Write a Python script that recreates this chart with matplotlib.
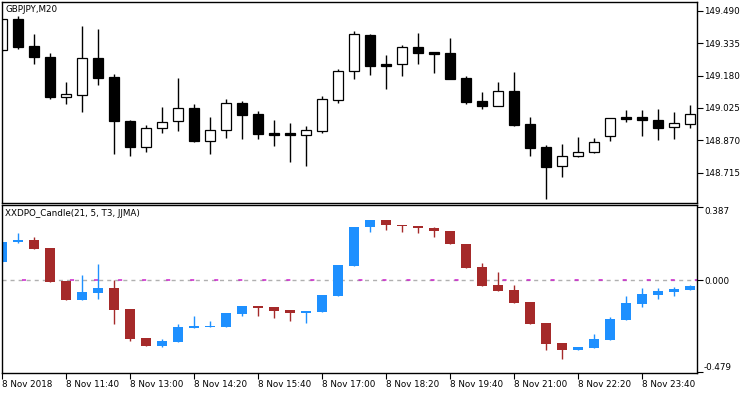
import numpy as np
import matplotlib
matplotlib.use('Agg')
import matplotlib.pyplot as plt

plt.rcParams['font.family'] = 'DejaVu Sans'
plt.rcParams['lines.scale_dashes'] = False

# GBPJPY M20, velas del panel de precio
abre = [149.301, 149.450, 149.321, 149.269, 149.079, 149.088, 149.264, 149.173, 148.962, 148.837,
        148.927, 148.961, 149.025, 148.868, 148.918, 149.048, 148.996, 148.905, 148.905, 148.894,
        148.916, 149.064, 149.200, 149.375, 149.235, 149.234, 149.315, 149.292, 149.288, 149.168,
        149.058, 149.036, 149.106, 148.948, 148.838, 148.746, 148.793, 148.813, 148.892, 148.981,
        148.981, 148.966, 148.932, 148.947]
maximo = [149.452, 149.465, 149.380, 149.289, 149.149, 149.418, 149.402, 149.187, 148.967, 148.943,
          149.029, 149.169, 149.044, 148.981, 149.068, 149.059, 149.010, 148.967, 148.953, 148.938,
          149.082, 149.211, 149.391, 149.379, 149.278, 149.326, 149.383, 149.292, 149.359, 149.176,
          149.101, 149.149, 149.198, 148.983, 148.848, 148.852, 148.887, 148.881, 148.979, 149.015,
          149.015, 149.021, 149.007, 149.039]
minimo = [149.298, 149.308, 149.236, 149.068, 149.045, 149.007, 149.136, 148.804, 148.796, 148.814,
          148.906, 148.916, 148.862, 148.804, 148.882, 148.878, 148.878, 148.844, 148.766, 148.749,
          148.906, 149.050, 149.163, 149.182, 149.115, 149.178, 149.236, 149.193, 149.162, 149.045,
          149.021, 149.034, 148.938, 148.796, 148.591, 148.696, 148.791, 148.811, 148.868, 148.959,
          148.892, 148.873, 148.878, 148.927]
cierre = [149.449, 149.318, 149.270, 149.076, 149.090, 149.262, 149.169, 148.964, 148.839, 148.929,
          148.956, 149.023, 148.867, 148.918, 149.047, 148.992, 148.902, 148.897, 148.894, 148.918,
          149.066, 149.200, 149.379, 149.227, 149.227, 149.315, 149.286, 149.284, 149.163, 149.055,
          149.036, 149.106, 148.943, 148.835, 148.744, 148.795, 148.813, 148.860, 148.977, 148.973,
          148.969, 148.930, 148.953, 148.994]

# XXDPO_Candle
ind_abre = [0.0956, 0.2000, 0.2139, 0.1669, -0.0035, -0.1026, -0.0661, -0.0417, -0.1513, -0.3026,
            -0.3426, -0.3217, -0.2487, -0.2435, -0.2435, -0.1756, -0.1356, -0.1409, -0.1565, -0.1704,
            -0.1652, -0.0817, 0.0748, 0.2782, 0.3182, 0.2922, 0.2869, 0.2765, 0.2609, 0.1930,
            0.0678, -0.0261, -0.0504, -0.1148, -0.2226, -0.3287, -0.3635, -0.3530, -0.3113, -0.2069,
            -0.1235, -0.0765, -0.0609, -0.0504]
ind_max = [0.2035, 0.2504, 0.2261, 0.1669, -0.0035, 0.0261, 0.0835, 0.0000, -0.1513, -0.3026,
           -0.3078, -0.2295, -0.1896, -0.2139, -0.1722, -0.1356, -0.1356, -0.1409, -0.1565, -0.1617,
           -0.0783, 0.0783, 0.2817, 0.3182, 0.3182, 0.2922, 0.2869, 0.2817, 0.2609, 0.1930,
           0.0887, 0.0435, -0.0261, -0.1148, -0.2226, -0.3287, -0.3495, -0.2817, -0.1948, -0.0835,
           -0.0417, -0.0383, -0.0365, -0.0243]
ind_min = [0.0956, 0.1948, 0.1635, -0.0087, -0.1026, -0.1026, -0.0974, -0.2278, -0.3165, -0.3426,
           -0.3478, -0.3217, -0.2487, -0.2435, -0.2435, -0.1896, -0.1861, -0.1965, -0.2122, -0.2226,
           -0.1652, -0.0817, 0.0748, 0.2522, 0.2626, 0.2522, 0.2469, 0.2278, 0.1896, 0.0626,
           -0.0296, -0.0556, -0.1183, -0.2278, -0.3635, -0.4104, -0.3635, -0.3530, -0.3113, -0.2069,
           -0.1391, -0.0974, -0.0817, -0.0504]
ind_cierre = [0.2035, 0.2139, 0.1635, -0.0087, -0.1026, -0.0626, -0.0417, -0.1548, -0.3061, -0.3426,
              -0.3182, -0.2452, -0.2382, -0.2382, -0.1722, -0.1356, -0.1461, -0.1600, -0.1704, -0.1617,
              -0.0783, 0.0783, 0.2817, 0.3182, 0.2887, 0.2835, 0.2730, 0.2574, 0.1896, 0.0626,
              -0.0296, -0.0556, -0.1183, -0.2278, -0.3339, -0.3635, -0.3495, -0.3078, -0.2035, -0.1200,
              -0.0730, -0.0574, -0.0452, -0.0296]

etiquetas_x = ['8 Nov 2018', '8 Nov 11:40', '8 Nov 13:00', '8 Nov 14:20', '8 Nov 15:40', '8 Nov 17:00',
               '8 Nov 18:20', '8 Nov 19:40', '8 Nov 21:00', '8 Nov 22:20', '8 Nov 23:40']
precios_y = [149.490, 149.335, 149.180, 149.025, 148.870, 148.715]
ind_y = [0.387, 0.000, -0.479]

abre, maximo, minimo, cierre = map(np.array, (abre, maximo, minimo, cierre))
ind_abre, ind_max, ind_min, ind_cierre = map(np.array, (ind_abre, ind_max, ind_min, ind_cierre))
x = np.arange(len(abre))

fig = plt.figure(figsize=(7.5, 3.94), dpi=100)
ax1 = fig.add_axes([2 / 750, 1 - 203 / 394, 695 / 750, 201 / 394])
ax2 = fig.add_axes([2 / 750, 1 - 373 / 394, 695 / 750, 168 / 394])

ancho = 0.62
tam = 6.3

# panel de precio
sube = cierre >= abre
ax1.vlines(x, minimo, maximo, color='black', lw=1, zorder=1)
ax1.bar(x, np.abs(cierre - abre), bottom=np.minimum(abre, cierre), width=ancho,
        color=np.where(sube, 'white', 'black'), edgecolor='black', linewidth=0.9, zorder=2)
ax1.set_xlim(-0.02, 43.42)
ax1.set_ylim(148.570, 149.532)
ax1.set_xticks([])
ax1.yaxis.tick_right()
ax1.set_yticks(precios_y)
ax1.set_yticklabels(['%.3f' % p for p in precios_y])
ax1.tick_params(axis='y', direction='out', length=4, width=0.8, pad=1, labelsize=tam)
ax1.text(0.005, 0.985, 'GBPJPY,M20', transform=ax1.transAxes, fontsize=tam, va='top', ha='left')

# panel del indicador
sube2 = ind_cierre >= ind_abre
colores = np.where(sube2, '#1E90FF', '#A52A2A')
ax2.axhline(0, color='#b0b0b0', lw=1, ls=(0, (2.9, 2.9)), zorder=0)
ax2.axhline(0, color='#cc22cc', lw=1.1, ls=(2.9, (2.9, 14.4)), zorder=0)
ax2.vlines(x, ind_min, ind_max, color=colores, lw=1, zorder=1)
ax2.bar(x, np.maximum(np.abs(ind_cierre - ind_abre), 0.004), bottom=np.minimum(ind_abre, ind_cierre),
        width=ancho, color=colores, linewidth=0, zorder=2)
ax2.set_xlim(-0.02, 43.42)
ax2.set_ylim(-0.486, 0.395)
ax2.yaxis.tick_right()
ax2.set_yticks(ind_y)
ax2.set_yticklabels(['%.3f' % v for v in ind_y])
ax2.tick_params(axis='y', direction='out', length=4, width=0.8, pad=1, labelsize=tam)
etq = ax2.get_yticklabels()
etq[0].set_va('top')
etq[2].set_va('bottom')
ax2.set_xticks(x[::4])
ax2.set_xticklabels(etiquetas_x, ha='left')
ax2.tick_params(axis='x', direction='out', length=4, width=0.8, pad=1, labelsize=tam)
ax2.text(0.005, 0.975, 'XXDPO_Candle(21, 5, T3, JJMA)', transform=ax2.transAxes, fontsize=tam,
         va='top', ha='left')

for a in (ax1, ax2):
    for s in a.spines.values():
        s.set_linewidth(1)
        s.set_color('black')

fig.savefig('out.png', dpi=100)
